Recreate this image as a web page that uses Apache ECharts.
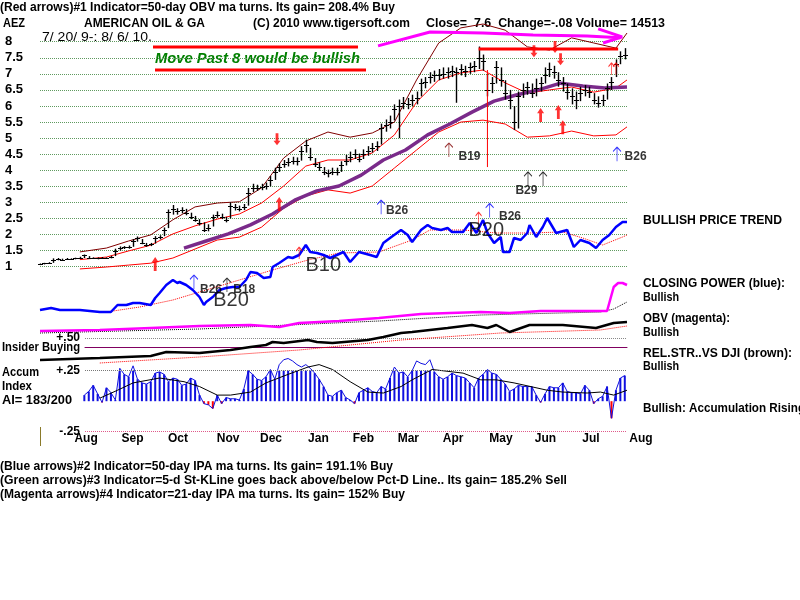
<!DOCTYPE html>
<html><head><meta charset="utf-8">
<script src="https://cdn.jsdelivr.net/npm/echarts@6/dist/echarts.min.js"></script>
<style>html,body{margin:0;padding:0;background:#fff}#c{width:800px;height:600px}</style>
</head><body><div id="c"></div>
<script>
// ---------- DATA (day index 0 = 7/20/2009, last = 8/6/2010) ----------
const monthLabels = ['Aug','Sep','Oct','Nov','Dec','Jan','Feb','Mar','Apr','May','Jun','Jul','Aug'];
const monthPos = [20.8,41.8,62.3,84.9,104.3,125.7,146,166.3,186.5,208.1,228.2,248.7,271.3];

// price bars sampled every 2 trading days from day 0
const closeP = [1.08,1.10,1.12,1.22,1.24,1.22,1.25,1.24,1.26,1.28,
 1.35,1.28,1.27,1.26,1.28,1.27,1.30,1.50,1.58,1.60,
 1.62,1.80,1.88,1.75,1.68,1.70,1.90,1.92,2.15,2.70,
 2.80,2.72,2.75,2.68,2.55,2.45,2.35,2.15,2.20,2.55,
 2.60,2.55,2.45,2.90,2.85,2.80,2.85,3.30,3.45,3.45,
 3.48,3.50,3.70,3.95,4.10,4.20,4.25,4.30,4.28,4.60,
 4.80,4.40,4.20,4.10,3.95,3.90,3.95,3.95,4.15,4.30,
 4.40,4.50,4.35,4.50,4.60,4.70,4.75,5.30,5.40,5.50,
 5.90,6.00,6.10,6.05,6.20,6.25,6.70,6.75,6.90,6.95,
 6.95,7.00,7.05,7.10,7.05,7.15,7.10,7.20,7.25,7.50,
 7.40,6.50,6.70,7.20,6.80,6.40,6.20,5.50,6.30,6.50,
 6.60,6.40,6.55,6.70,6.95,7.15,7.05,6.80,6.70,6.45,
 6.30,6.20,6.40,6.50,6.45,6.20,6.10,6.20,6.55,6.75,
 7.30,7.55,7.60];
const highP = [1.10,1.12,1.14,1.26,1.27,1.25,1.27,1.26,1.28,1.31,
 1.38,1.33,1.29,1.29,1.30,1.29,1.34,1.56,1.63,1.64,
 1.66,1.86,1.94,1.86,1.74,1.74,1.95,1.98,2.22,2.78,
 2.92,2.82,2.85,2.80,2.68,2.58,2.48,2.38,2.32,2.62,
 2.72,2.65,2.55,3.00,2.95,2.90,2.95,3.45,3.58,3.55,
 3.58,3.62,3.82,4.08,4.22,4.32,4.38,4.42,4.40,4.75,
 4.95,4.70,4.38,4.25,4.10,4.02,4.08,4.08,4.28,4.48,
 4.58,4.65,4.52,4.65,4.75,4.85,4.90,5.45,5.58,5.70,
 6.05,6.20,6.28,6.25,6.35,6.45,6.85,6.90,7.05,7.10,
 7.15,7.20,7.20,7.25,7.20,7.30,7.25,7.35,7.40,7.85,
 7.60,7.00,6.90,7.40,7.20,6.80,6.50,6.00,6.45,6.70,
 6.75,6.70,6.85,6.90,7.20,7.35,7.25,7.05,6.90,6.70,
 6.55,6.45,6.60,6.65,6.60,6.40,6.30,6.35,6.70,6.90,
 7.45,7.70,7.80];
const lowP = [1.05,1.07,1.09,1.12,1.20,1.19,1.22,1.21,1.23,1.25,
 1.27,1.25,1.24,1.23,1.25,1.24,1.26,1.33,1.50,1.55,
 1.56,1.62,1.78,1.70,1.62,1.64,1.72,1.85,1.95,2.20,
 2.62,2.62,2.66,2.60,2.48,2.40,2.28,2.08,2.10,2.25,
 2.52,2.48,2.38,2.50,2.75,2.72,2.76,2.90,3.32,3.36,
 3.38,3.40,3.50,3.70,3.95,4.08,4.12,4.18,4.15,4.30,
 4.55,4.30,4.10,3.98,3.85,3.78,3.85,3.84,3.95,4.15,
 4.25,4.35,4.25,4.35,4.45,4.55,4.60,4.80,5.20,5.30,
 5.55,5.00,5.90,5.90,6.00,6.05,6.30,6.55,6.70,6.75,
 6.80,6.85,6.85,6.90,6.10,6.95,6.90,7.00,7.05,7.15,
 7.10,6.30,6.40,6.70,6.60,6.20,5.90,5.25,5.30,6.25,
 6.35,6.25,6.30,6.45,6.70,6.90,6.85,6.60,6.45,6.20,
 6.05,5.90,6.15,6.30,6.25,6.05,5.95,6.00,6.20,6.50,
 6.90,7.30,7.45];

const bandDays = [18,30,40,50,60,70,80,90,100,110,120,130,140,150,160,170,180,190,200,210,220,230,240,250,260,265];
const upperBand = [1.46,1.58,1.80,1.99,2.46,2.86,2.98,3.02,3.45,4.38,4.91,5.19,5.03,5.16,5.50,6.81,7.96,8.43,8.55,8.36,7.84,7.74,8.12,7.96,7.80,8.27];
const ma21 = [1.22,1.30,1.49,1.67,2.02,2.27,2.48,2.64,2.98,3.51,4.13,4.32,4.32,4.54,5.10,6.12,6.81,7.03,7.12,6.72,6.40,6.50,6.59,6.43,6.56,6.81];
const lowerBand = [0.93,0.99,1.05,1.11,1.27,1.55,1.83,1.92,2.23,2.82,3.20,3.39,3.29,3.51,4.07,4.63,5.19,5.50,5.56,5.44,5.03,5.07,5.22,5.07,5.10,5.35];
const ma50Days = [65,75,85,95,105,115,125,135,145,155,165,175,185,195,205,215,225,235,245,255,265];
const ma50 = [1.58,1.80,2.02,2.30,2.64,3.07,3.36,3.51,3.85,4.32,4.63,5.10,5.44,5.81,6.15,6.34,6.50,6.71,6.62,6.56,6.59];

// Closing power (blue) and its MA
const cpDays = [0,5,9,18,27,32,35,39,42,45,50,52,54,57,60,62,63,66,69,72,74,75,78,81,84,87,90,93,95,98,101,104,105,108,112,114,117,120,122,125,128,131,137,140,144,149,152,155,158,163,166,168,172,175,177,181,184,186,191,194,197,200,202,205,208,209,212,214,217,220,221,224,227,229,233,238,241,244,248,251,254,257,260,263,265];
const cpVals = [10,12,10,10,8,8,15,15,17,17,15,22,27,35,40,37,38,35,30,23,15,18,23,30,32,33,33,40,48,47,42,43,53,57,63,62,65,75,68,67,65,62,68,58,68,65,63,77,82,90,85,78,90,95,92,90,92,88,88,97,87,100,87,77,83,68,68,82,80,87,95,83,93,102,87,90,73,80,77,72,80,85,93,98,98];
const cpMaDays = [30,45,60,75,90,105,121,135,153,168,176,191,206,221,236,245,254,263,265];
const cpMa = [8,13,20,30,40,50,60,67,68,80,90,90,87,87,88,82,75,83,85];

// OBV (magenta) and MA
const obvDays = [0,27,50,72,95,108,117,135,153,172,185,199,212,226,244,256,258,259,261,263,265];
const obvVals = [9,10,12,14,15,13,17,19,22,26,27,28,27,29,29,29,45,53,57,57,55];
const obvMaDays = [0,72,153,199,253,259,265];
const obvMa = [7,11,19,25,28,31,38];

// Relative strength vs DJI (black) and MA
const rsDays = [0,27,50,57,72,86,95,102,105,110,121,125,132,148,155,163,168,184,195,202,206,212,221,236,251,259,265];
const rsVals = [10,12,14,18,17,20,23,25,28,27,30,28,27,30,33,37,38,42,45,42,45,38,45,45,42,47,48];
const rsMaDays = [27,72,117,163,208,253,265];
const rsMa = [7,13,20,30,37,40,44];

// Accumulation index, every 2 days from day 20
const aiVals = [0.05,0.08,0.13,0.06,-0.01,0.11,0.07,0.01,0.27,0.22,
 0.20,0.29,0.18,0.15,0.14,0.16,0.23,0.24,0.22,0.16,
 0.19,0.18,0.13,0.14,0.19,0.17,0.05,-0.02,-0.03,-0.06,
 0.05,-0.02,0.03,0.02,0.02,0.01,0.10,0.25,0.22,0.18,
 0.17,0.20,0.26,0.18,0.30,0.34,0.35,0.33,0.30,0.28,
 0.30,0.27,0.23,0.18,0.12,0.05,0.04,0.07,0.09,0.03,
 0.01,-0.02,0.07,0.09,0.11,0.08,0.07,0.12,0.10,0.19,
 0.28,0.23,0.24,0.20,0.25,0.33,0.31,0.30,0.34,0.24,
 0.20,0.18,0.20,0.23,0.21,0.20,0.19,0.15,0.11,0.19,
 0.22,0.26,0.23,0.22,0.18,0.14,0.08,0.10,0.13,0.12,
 0.12,0.12,0.05,-0.01,0.06,0.12,0.11,0.11,0.15,0.08,
 0.07,0.07,0.06,0.13,0.09,-0.02,0.02,0.04,0.12,-0.14,
 0.09,0.19,0.21];
const aiMaDays = [27,35,42,54,65,72,80,86,95,102,112,121,126,132,140,148,155,163,168,177,191,199,206,214,229,236,247,253,259,265];
const aiMa = [0.025,0.09,0.15,0.19,0.16,0.12,0.05,0.05,0.075,0.15,0.22,0.28,0.30,0.26,0.16,0.075,0.067,0.12,0.175,0.26,0.23,0.175,0.175,0.15,0.09,0.075,0.067,0.075,0.05,0.09];

// annotations [day, price]
const magentaArrow = [[152.6,7.87],[176.1,8.30],[200,8.27],[222.6,8.21],[247,8.18],[262,8.12]];
const magentaHead1 = [[252,8.40],[262.8,8.15],[254.2,7.96]];
const resistance = [[198,7.77],[261,7.77]];
const redSignalLine = [[202,7.12],[202,4.10]];
const redUpArrows = [[52,1.30],[108,3.17],[226,5.94],[234,6.03],[236,5.56]];
const redDownArrows = [[107,4.78],[223,7.52],[232.5,7.65],[235,7.27]];
const blueArrows = [[154,3.07],[203,2.97],[260.5,4.72],[69.5,0.74]];
const brownArrows = [[184.6,4.85]];
const blackArrows = [[220.3,3.95],[227.1,3.95],[84.4,0.65]];
const redThinArrows = [[117,1.61],[198,2.70],[258,7.34],[260,7.34]];
const smallTags = [['B19',188.7,4.41],['B26',156,2.73],['B26',207,2.55],['B26',263.7,4.41],['B29',214.4,3.35],['B26',72,0.27],['B18',87,0.27]];
const bigTags = [['B20',193.2,2.14],['B20',78,-0.04],['B10',119.6,1.05]];

// ---------- CHART ----------
const AF = 'Liberation Sans, Arial, sans-serif';
const BOLD = 'bold 13px ' + AF;
const priceDays = closeP.map((_, k) => 2 * k);
const aiDays = aiVals.map((_, k) => 20 + 2 * k);
const zip = (xs, ys) => xs.map((x, k) => [x, ys[k]]);

const mctx = document.createElement('canvas').getContext('2d');
function fitText(x, y, text, width, font, fill) {
  mctx.font = font;
  const w = mctx.measureText(text).width;
  return {type: 'text', x, y, scaleX: width / w, silent: true,
    style: {text, font, fill: fill || '#000', verticalAlign: 'middle'}};
}

const chart = echarts.init(document.getElementById('c'), null, {renderer: 'canvas'});
const hidX = (g, min, max) => ({gridIndex: g, type: 'value', min, max, show: false});
const hidY = (g, min, max) => ({gridIndex: g, type: 'value', min, max, show: false});

const thinUp = 'path://M5,0 L0,5 M5,0 L10,5 M5,0 L5,16';
const thickUp = 'path://M5,0 L10,6 L7,6 L7,16 L3,16 L3,6 L0,6 Z';
const thickDown = 'path://M3,0 L7,0 L7,10 L10,10 L5,16 L0,10 L3,10 Z';

function arrowSeries(data, path, fill, stroke, size, offset) {
  return {type: 'scatter', xAxisIndex: 0, yAxisIndex: 0, data, symbol: path, symbolSize: size,
    symbolOffset: offset, clip: false, silent: true, z: 6,
    itemStyle: {color: fill, borderColor: stroke, borderWidth: fill === 'transparent' ? 1 : 0}};
}
function tagSeries(tags, size, weight) {
  return {type: 'scatter', xAxisIndex: 0, yAxisIndex: 0, clip: false, silent: true, z: 7,
    symbolSize: 1, itemStyle: {color: 'transparent'},
    data: tags.map(t => ({value: [t[1], t[2]], name: t[0]})),
    label: {show: true, position: 'right', distance: 0, formatter: p => p.name,
      color: '#000', fontFamily: AF, fontSize: size, fontWeight: weight}};
}
function lineS(xi, data, color, width, extra) {
  return Object.assign({type: 'line', xAxisIndex: xi, yAxisIndex: xi, data, showSymbol: false,
    symbol: 'none', clip: false, silent: true, lineStyle: {color, width}}, extra || {});
}

// [x, y, text, reference width]
const texts = [
  [0, 7, '(Red arrows)#1 Indicator=50-day OBV ma turns. Its gain= 208.4% Buy', 395],
  [3, 23, 'AEZ', 22], [84, 23, 'AMERICAN OIL & GA', 121], [253, 23, '(C) 2010 www.tigersoft.com', 157],
  [426, 23, 'Close=  7.6  Change=-.08 Volume= 14513', 239],
  [643, 220.5, 'BULLISH PRICE TREND', 139], [643, 283, 'CLOSING POWER (blue):', 142], [643, 297, 'Bullish', 36],
  [643, 318, 'OBV (magenta):', 87], [643, 332, 'Bullish', 36], [643, 353, 'REL.STR..VS DJI (brown):', 149],
  [643, 366, 'Bullish', 36], [643, 408, 'Bullish: Accumulation Rising', 162],
  [2, 347, 'Insider Buying', 78], [2, 372.5, 'Accum', 37], [2, 386, 'Index', 30], [2, 400, 'AI= 183/200', 70],
  [0, 466, '(Blue arrows)#2 Indicator=50-day IPA ma turns. Its gain= 191.1% Buy', 393],
  [0, 480, '(Green arrows)#3 Indicator=5-d St-KLine goes back above/below Pct-D Line.. Its gain= 185.2% Sell', 567],
  [0, 494, '(Magenta arrows)#4 Indicator=21-day IPA ma turns. Its gain= 152% Buy', 405]
];
const graphics = texts.map(t => fitText(t[0], t[1], t[2], t[3], BOLD));
graphics.push(fitText(42, 37, '7/ 20/ 9-: 8/ 6/ 10.', 110, '13px ' + AF));
graphics.push(fitText(155, 59, 'Move Past 8 would be bullish', 205, 'italic bold 15px ' + AF, '#008000'));
graphics.push({type: 'line', silent: true, shape: {x1: 153, y1: 47, x2: 358, y2: 47}, style: {stroke: '#ff0000', lineWidth: 3}});
graphics.push({type: 'line', silent: true, shape: {x1: 155, y1: 70, x2: 366, y2: 70}, style: {stroke: '#ff0000', lineWidth: 3}});
graphics.push({type: 'line', silent: true, shape: {x1: 40.5, y1: 427, x2: 40.5, y2: 446}, style: {stroke: '#8a7a2a', lineWidth: 1}});

const option = {
  animation: false,
  backgroundColor: '#fff',
  grid: [
    {left: 40, right: 173, top: 41.7, height: 225},
    {left: 40, right: 173, top: 190, height: 130},
    {left: 40, right: 173, top: 280, height: 60},
    {left: 40, right: 173, top: 320, height: 50},
    {left: 85, right: 173, top: 338, height: 9},
    {left: 85, right: 173, top: 370.7, height: 61},
    {left: 40, right: 139.8, top: 430.7, height: 1}
  ],
  xAxis: [
    hidX(0, 0, 265), hidX(1, 0, 265), hidX(2, 0, 265), hidX(3, 0, 265),
    {gridIndex: 4, type: 'value', min: 0, max: 1, axisLine: {show: true, onZero: false, lineStyle: {color: '#800060', width: 1}},
      axisTick: {show: false}, axisLabel: {show: false}, splitLine: {show: false}},
    hidX(5, 20.3, 265),
    {gridIndex: 6, type: 'value', min: 0, max: 280, axisLine: {show: false}, axisTick: {show: false}, splitLine: {show: false},
      axisLabel: {show: true, customValues: monthPos, margin: 1, color: '#000', fontFamily: AF, fontWeight: 'bold', fontSize: 12,
        formatter: v => { const k = monthPos.indexOf(v); return k >= 0 ? monthLabels[k] : ''; }}}
  ],
  yAxis: [
    {gridIndex: 0, type: 'value', min: 1, max: 8, interval: 0.5,
      axisLine: {show: false}, axisTick: {show: false},
      axisLabel: {align: 'left', margin: 35, color: '#000', fontFamily: AF, fontWeight: 'bold', fontSize: 13},
      splitLine: {show: true, lineStyle: {type: 'dotted', color: '#5f9a5f', width: 1}}},
    hidY(1, 0, 130), hidY(2, 0, 60), hidY(3, 0, 50),
    {gridIndex: 4, type: 'value', min: 0, max: 0.5, interval: 0.5, axisLine: {show: false}, axisTick: {show: false},
      axisLabel: {margin: 5, color: '#000', fontFamily: AF, fontWeight: 'bold', fontSize: 12, formatter: v => v === 0.5 ? '+.50' : ''},
      splitLine: {show: true, lineStyle: {type: 'dotted', color: '#888', width: 1}}},
    {gridIndex: 5, type: 'value', min: -0.25, max: 0.25, interval: 0.25, axisLine: {show: false}, axisTick: {show: false},
      axisLabel: {margin: 5, color: '#000', fontFamily: AF, fontWeight: 'bold', fontSize: 12,
        formatter: v => v === 0.25 ? '+.25' : (v === -0.25 ? '-.25' : '')},
      splitLine: {show: false}},
    hidY(6, 0, 1)
  ],
  graphic: graphics,
  series: [
    // price panel lines
    lineS(0, zip(bandDays, upperBand), '#800000', 1),
    lineS(0, zip(bandDays, ma21), '#ff0000', 1),
    lineS(0, zip(bandDays, lowerBand), '#ff0000', 1),
    lineS(0, zip(ma50Days, ma50), '#7a2a8a', 3.5, {z: 3}),
    {type: 'custom', xAxisIndex: 0, yAxisIndex: 0, clip: false, silent: true, z: 4,
      data: closeP.map((c, k) => [priceDays[k], lowP[k], highP[k], c]),
      encode: {x: 0, y: [1, 2, 3]},
      renderItem: (params, api) => {
        const x = api.value(0);
        const pl = api.coord([x, api.value(1)]), ph = api.coord([x, api.value(2)]), pc = api.coord([x, api.value(3)]);
        const sx = Math.round(pl[0]) + 0.5, cy = Math.round(pc[1]) + 0.5;
        return {type: 'group', children: [
          {type: 'line', shape: {x1: sx, y1: pl[1], x2: sx, y2: ph[1]}, style: {stroke: '#000', lineWidth: 1.4}},
          {type: 'line', shape: {x1: sx - 2.5, y1: cy, x2: sx + 2.5, y2: cy}, style: {stroke: '#000', lineWidth: 1}}
        ]};
      }},
    lineS(0, magentaArrow, '#ff00ff', 3, {z: 5}),
    lineS(0, magentaHead1, '#ff00ff', 3, {z: 5}),
    lineS(0, resistance, '#ff0000', 3, {z: 5}),
    lineS(0, redSignalLine, '#ff0000', 1, {z: 5}),
    arrowSeries(redUpArrows, thickUp, '#ff0000', '#ff0000', [7, 14], [0, '50%']),
    arrowSeries(redDownArrows, thickDown, '#ff0000', '#ff0000', [7, 12], [0, '-50%']),
    arrowSeries(blueArrows, thinUp, 'transparent', '#0000ff', [8, 14], [0, '50%']),
    arrowSeries(brownArrows, thinUp, 'transparent', '#800000', [8, 14], [0, '50%']),
    arrowSeries(blackArrows, thinUp, 'transparent', '#000000', [8, 14], [0, '50%']),
    arrowSeries(redThinArrows, thinUp, 'transparent', '#ff0000', [6, 12], [0, '50%']),
    tagSeries(smallTags, 12, 'bold'),
    tagSeries(bigTags, 20, 'normal'),
    // closing power
    lineS(1, zip(cpMaDays, cpMa), '#ff0000', 1, {lineStyle: {color: '#ff0000', width: 1, type: 'dotted'}}),
    lineS(1, zip(cpDays, cpVals), '#0000ff', 2.5, {z: 4}),
    // OBV
    lineS(2, zip(obvMaDays, obvMa), '#000', 1, {lineStyle: {color: '#000', width: 1, type: 'dotted'}}),
    lineS(2, zip(obvDays, obvVals), '#ff00ff', 2.5),
    // relative strength
    lineS(3, zip(rsMaDays, rsMa), '#ff0000', 1, {lineStyle: {color: '#ff0000', width: 1, type: 'dotted'}}),
    lineS(3, zip(rsDays, rsVals), '#000', 2.5),
    // insider buying (keeps axes of grid 4 alive)
    {type: 'line', xAxisIndex: 4, yAxisIndex: 4, data: [], silent: true},
    // accumulation index
    {type: 'bar', xAxisIndex: 5, yAxisIndex: 5, barWidth: 2, silent: true,
      data: aiVals.map((v, k) => ({value: [aiDays[k], v], itemStyle: {color: v < 0 ? '#ff0000' : '#1010e0'}})),
      markLine: {silent: true, symbol: 'none', label: {show: false},
        data: [{yAxis: 0.25, lineStyle: {type: 'dotted', color: '#777', width: 1}},
               {yAxis: -0.25, lineStyle: {type: 'dotted', color: '#e05a8a', width: 1}}]}},
    lineS(5, zip(aiDays, aiVals), '#1010e0', 1),
    lineS(5, zip(aiMaDays, aiMa), '#000', 1, {z: 4}),
    {type: 'line', xAxisIndex: 6, yAxisIndex: 6, data: [], silent: true}
  ]
};
chart.setOption(option);
</script></body></html>
